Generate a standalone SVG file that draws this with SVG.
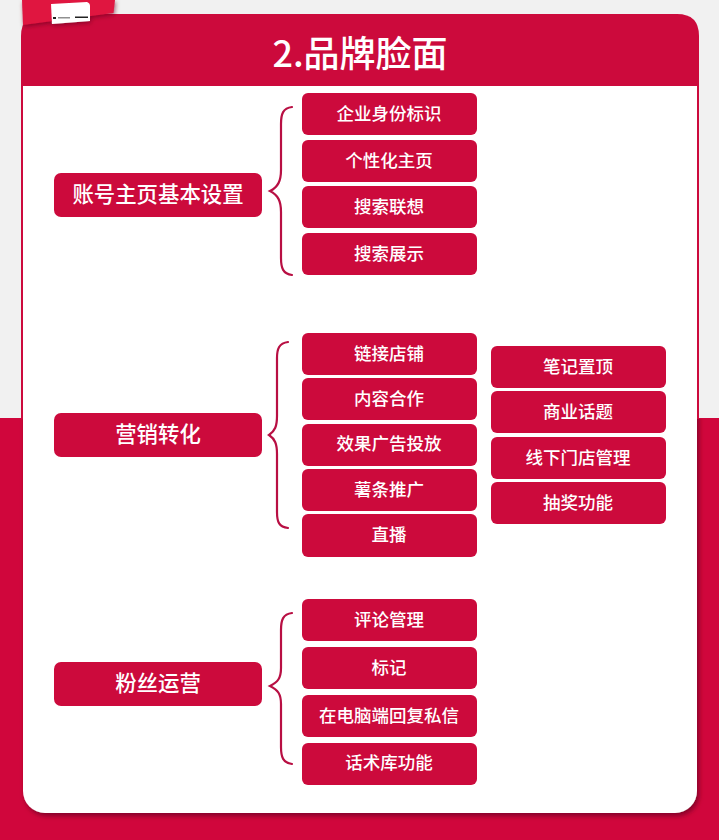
<svg xmlns="http://www.w3.org/2000/svg" width="719" height="840" viewBox="0 0 719 840">
<defs>
<style>
.b{fill:#cc0a3c}
text{font-family:"Noto Sans CJK SC","Noto Sans",sans-serif;fill:#fff;text-anchor:middle}
.t{font-size:17.500px;font-weight:500}
.m{font-size:21.400px;font-weight:500}
.c{fill:none;stroke:#b80f43;stroke-width:2.200;stroke-linecap:round}
</style>
<filter id="s" x="-5%" y="-5%" width="110%" height="110%"><feDropShadow dx="2" dy="3" stdDeviation="2.500" flood-color="#6a0020" flood-opacity=".75"/></filter>
<filter id="s2" x="-20%" y="-20%" width="140%" height="140%"><feDropShadow dx="1" dy="2" stdDeviation="2" flood-color="#6a0020" flood-opacity=".6"/></filter>
<clipPath id="low"><rect y="419" width="719" height="421"/></clipPath>
</defs>
<rect width="719" height="419" fill="#f1f1f1"/>
<rect y="418" width="719" height="422" fill="#d0063c"/>
<g id="card">
<g clip-path="url(#low)"><rect x="23" y="300" width="674" height="513" rx="22" fill="#fff" filter="url(#s)"/></g>
<rect x="23" y="60" width="674" height="400" fill="#fff"/>
<path d="M21 86V36Q21 14 43 14H677Q699 14 699 36V86Z" class="b"/>
<path d="M21 86H23V418H21ZM697 86H699V418H697Z" class="b"/>
<text x="360" y="67" style="font-size:36px;font-weight:500">2.品牌脸面</text>
</g>
<g id="tab" filter="url(#s2)">
<path d="M22 0H115L113.500 13L23 25Z" fill="#e0143f"/>
<path d="M51 4L87 2Q90 3 90 6V21L52 24Z" fill="#fff"/>
<path d="M53 17h3v2h-3zM58 17.500h12v.8h-12zM75 16.500h13v1.500h-13z" fill="#222"/>
</g>
<g id="connectors">
<path class="c" d="M292 107C283 108 281 114 281 124V170C281 181 278 187 270 191C278 195 281 201 281 212V258C281 268 283 274 292 275"/>
<path class="c" d="M288 342C279 343 277 349 277 358V416C277 426 275 431 269 435C275 439 277 444 277 454V512C277 522 279 527 288 528"/>
<path class="c" d="M292 613C283 614 281 620 281 630V668C281 678 278 682 270 686C278 690 281 694 281 704V747C281 757 283 763 292 764"/>
</g>
<g id="main1"><rect class="b" x="54" y="173" width="208" height="44" rx="7"/><text class="m" x="158" y="202">账号主页基本设置</text></g>
<g id="main2"><rect class="b" x="54" y="413" width="208" height="44" rx="7"/><text class="m" x="158" y="442">营销转化</text></g>
<g id="main3"><rect class="b" x="54" y="662" width="208" height="44" rx="7"/><text class="m" x="158" y="691">粉丝运营</text></g>
<g id="a1"><rect class="b" x="302" y="93" width="175" height="42" rx="6"/><text class="t" x="389" y="120">企业身份标识</text></g>
<g id="a2"><rect class="b" x="302" y="140" width="175" height="42" rx="6"/><text class="t" x="389" y="167">个性化主页</text></g>
<g id="a3"><rect class="b" x="302" y="186" width="175" height="42" rx="6"/><text class="t" x="389" y="213">搜索联想</text></g>
<g id="a4"><rect class="b" x="302" y="233" width="175" height="42" rx="6"/><text class="t" x="389" y="260">搜索展示</text></g>
<g id="b1"><rect class="b" x="302" y="333" width="175" height="42" rx="6"/><text class="t" x="389" y="360">链接店铺</text></g>
<g id="b2"><rect class="b" x="302" y="378" width="175" height="42" rx="6"/><text class="t" x="389" y="405">内容合作</text></g>
<g id="b3"><rect class="b" x="302" y="424" width="175" height="42" rx="6"/><text class="t" x="389" y="450">效果广告投放</text></g>
<g id="b4"><rect class="b" x="302" y="469" width="175" height="42" rx="6"/><text class="t" x="389" y="496">薯条推广</text></g>
<g id="b5"><rect class="b" x="302" y="514" width="175" height="43" rx="6"/><text class="t" x="389" y="541">直播</text></g>
<g id="d1"><rect class="b" x="491" y="346" width="175" height="42" rx="6"/><text class="t" x="578" y="373">笔记置顶</text></g>
<g id="d2"><rect class="b" x="491" y="391" width="175" height="42" rx="6"/><text class="t" x="578" y="418">商业话题</text></g>
<g id="d3"><rect class="b" x="491" y="437" width="175" height="42" rx="6"/><text class="t" x="578" y="464">线下门店管理</text></g>
<g id="d4"><rect class="b" x="491" y="482" width="175" height="42" rx="6"/><text class="t" x="578" y="509">抽奖功能</text></g>
<g id="c1"><rect class="b" x="302" y="599" width="175" height="42" rx="6"/><text class="t" x="389" y="626">评论管理</text></g>
<g id="c2"><rect class="b" x="302" y="647" width="175" height="42" rx="6"/><text class="t" x="389" y="674">标记</text></g>
<g id="c3"><rect class="b" x="302" y="695" width="175" height="42" rx="6"/><text class="t" x="389" y="722">在电脑端回复私信</text></g>
<g id="c4"><rect class="b" x="302" y="743" width="175" height="42" rx="6"/><text class="t" x="389" y="769">话术库功能</text></g>
</svg>
